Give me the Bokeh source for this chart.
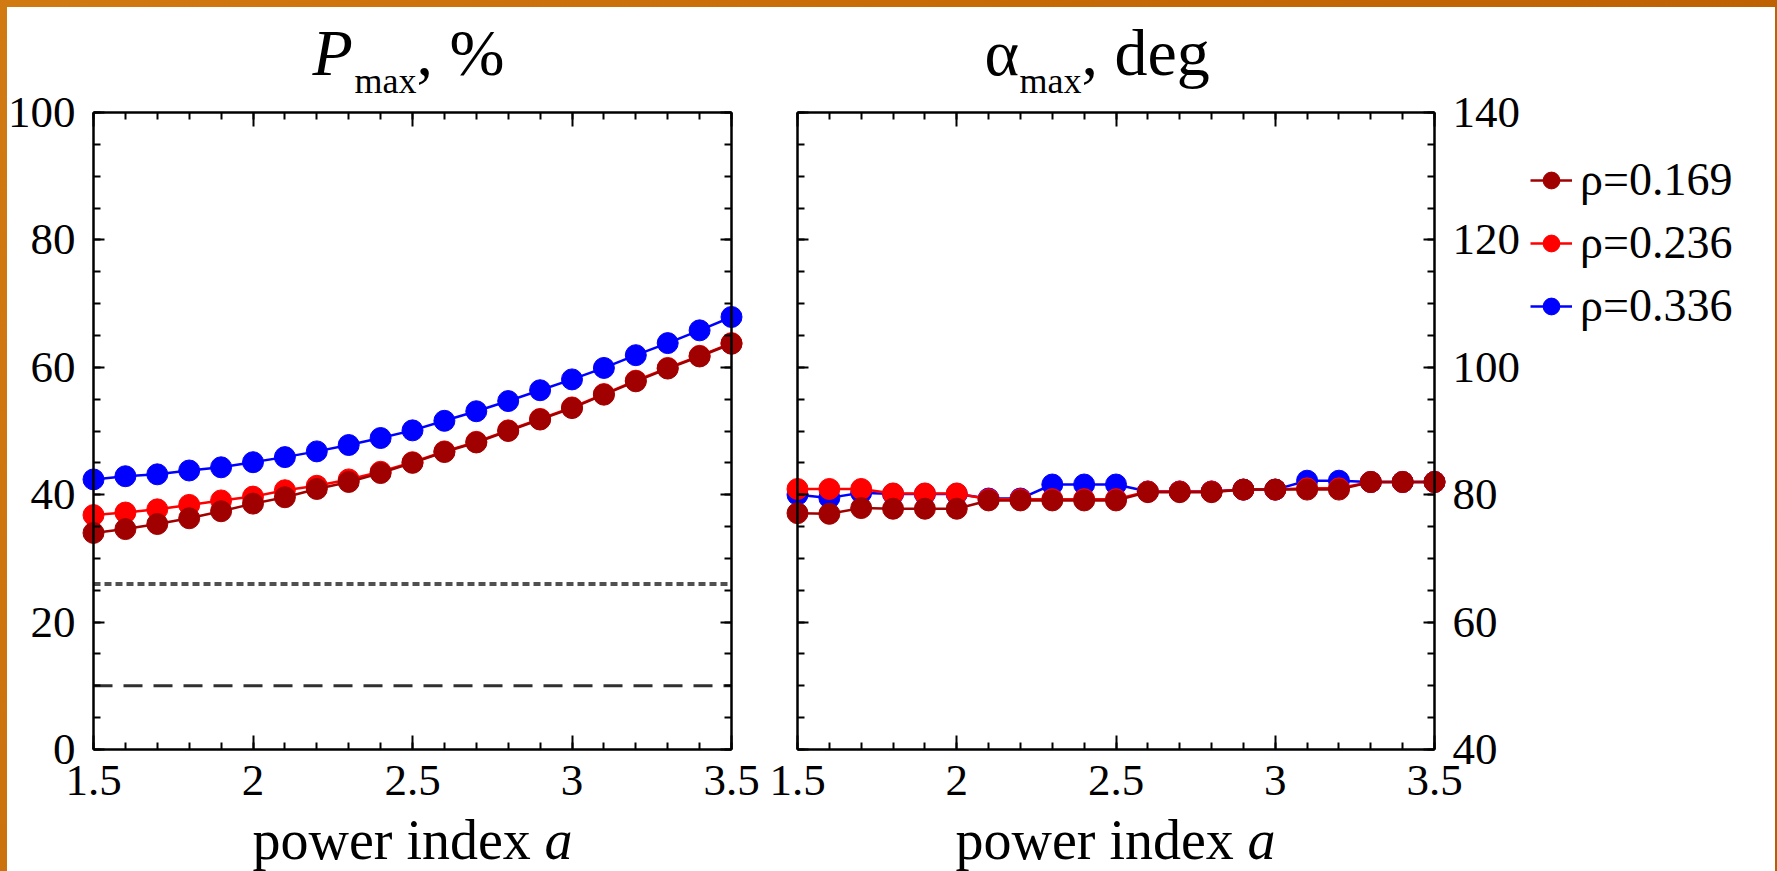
from bokeh.plotting import figure
from bokeh.models import (Range1d, LinearAxis, SingleIntervalTicker, NumeralTickFormatter,
                          Label, Legend, LegendItem, Spacer, CustomLabelingPolicy)
from bokeh.layouts import row, column
from bokeh.embed import file_html
from bokeh.resources import INLINE

# ---------------- data ----------------
power_index = [1.5, 1.6, 1.7, 1.8, 1.9, 2.0, 2.1, 2.2, 2.3, 2.4, 2.5,
               2.6, 2.7, 2.8, 2.9, 3.0, 3.1, 3.2, 3.3, 3.4, 3.5]

pmax_rho0169 = [34.0, 34.6, 35.4, 36.3, 37.4, 38.6, 39.6, 40.9, 42.0, 43.4, 45.0,
                46.7, 48.2, 50.0, 51.8, 53.6, 55.7, 57.8, 59.8, 61.7, 63.7]
pmax_rho0236 = [36.8, 37.2, 37.7, 38.4, 39.1, 39.7, 40.7, 41.4, 42.4, 43.6, 45.1,
                46.8, 48.3, 50.1, 51.9, 53.7, 55.8, 57.9, 59.9, 61.8, 63.8]
pmax_rho0336 = [42.4, 42.9, 43.2, 43.8, 44.3, 45.1, 45.9, 46.8, 47.8, 48.9, 50.1,
                51.6, 53.1, 54.7, 56.4, 58.1, 59.9, 61.9, 63.8, 65.8, 67.9]

alpha_rho0169 = [77.1, 77.0, 77.9, 77.8, 77.8, 77.8, 79.1, 79.1, 79.1, 79.1, 79.1,
                 80.4, 80.4, 80.4, 80.8, 80.8, 80.8, 80.8, 82.0, 82.0, 82.0]
alpha_rho0236 = [80.9, 80.9, 80.9, 80.2, 80.2, 80.2, 79.3, 79.3, 79.3, 79.3, 79.3,
                 80.5, 80.5, 80.5, 80.8, 80.8, 81.0, 81.0, 82.0, 82.0, 82.0]
alpha_rho0336 = [80.0, 79.5, 80.3, 80.1, 80.1, 80.1, 79.4, 79.4, 81.6, 81.6, 81.6,
                 80.5, 80.5, 80.5, 80.8, 80.8, 82.2, 82.2, 82.0, 82.0, 82.0]

series_labels = ["ρ=0.169", "ρ=0.236", "ρ=0.336"]
series_colors = ["#a00000", "#ff0000", "#0000ff"]
ref_levels = [26, 10]          # dotted and dashed reference lines in the P_max panel
ref_dashes = ["7 4", "19 11"]
ref_colors = ["#505050", "#303030"]
ref_widths = [4, 3]
x_span = (1.5, 3.5)
pmax_span = (0, 100)
alpha_span = (40, 140)

FONT = "Liberation Serif"
ORANGE = "linear-gradient(120deg, #d27a12 0%, #c66a06 45%, #b95c02 100%)"

# ---------------- layout (window pixels) ----------------
CANVAS_TOP, CANVAS_BOTTOM = 7, 871
BOX_TOP, BOX_BOTTOM = 112, 749
P1_LEFT, P1_RIGHT = 7, 764
P2_LEFT, P2_RIGHT = 764, 1775
BOX1 = (93, 731)
BOX2 = (797, 1434)
H = CANVAS_BOTTOM - CANVAS_TOP


def ranges(canvas_lr, box_lr, yspan):
    xs = (box_lr[1] - box_lr[0]) / (x_span[1] - x_span[0])
    ys = (BOX_BOTTOM - BOX_TOP) / (yspan[1] - yspan[0])
    x0 = x_span[0] - (box_lr[0] - canvas_lr[0]) / xs
    x1 = x_span[1] + (canvas_lr[1] - box_lr[1]) / xs
    y0 = yspan[0] - (CANVAS_BOTTOM - BOX_BOTTOM) / ys
    y1 = yspan[1] + (BOX_TOP - CANVAS_TOP) / ys
    return Range1d(x0, x1), Range1d(y0, y1)


def style_axis(ax, labels):
    ax.major_tick_out = 0
    ax.minor_tick_out = 0
    ax.axis_line_width = 2.5
    ax.axis_line_color = "black"
    ax.major_tick_line_width = 2
    ax.minor_tick_line_width = 2
    ax.major_tick_line_color = "black"
    ax.minor_tick_line_color = "black"
    ax.major_label_text_font = FONT
    ax.major_label_text_color = "black"
    ax.major_label_text_font_size = "45px"
    if not labels:
        ax.major_label_policy = CustomLabelingPolicy(code="return new Set()")


def x_axis(labels, at):
    ax = LinearAxis(ticker=SingleIntervalTicker(interval=0.5, num_minor_ticks=5),
                    formatter=NumeralTickFormatter(format="0.[0]"),
                    fixed_location=at, bounds=x_span)
    ax.major_tick_in = 14
    ax.minor_tick_in = 7
    ax.major_label_standoff = 16
    style_axis(ax, labels)
    return ax


def y_axis(labels, at, yspan):
    ax = LinearAxis(ticker=SingleIntervalTicker(interval=20, num_minor_ticks=4),
                    fixed_location=at, bounds=yspan)
    ax.major_tick_in = 11
    ax.minor_tick_in = 7
    ax.major_label_standoff = 18
    style_axis(ax, labels)
    return ax


def make_fig(canvas_lr, box_lr, yspan, label_side):
    xr, yr = ranges(canvas_lr, box_lr, yspan)
    p = figure(width=canvas_lr[1] - canvas_lr[0], height=H, x_range=xr, y_range=yr,
               output_backend="svg", toolbar_location=None,
               x_axis_location=None, y_axis_location=None,
               min_border_left=0, min_border_right=0, min_border_top=0, min_border_bottom=0)
    p.grid.visible = False
    p.background_fill_color = "white"
    p.border_fill_color = "white"
    p.outline_line_color = None
    p.add_layout(x_axis(True, yspan[0]), "below")
    p.add_layout(x_axis(False, yspan[1]), "above")
    if label_side == "left":
        p.add_layout(y_axis(True, x_span[0], yspan), "left")
        p.add_layout(y_axis(False, x_span[1], yspan), "right")
    else:
        p.add_layout(y_axis(True, x_span[1], yspan), "right")
        p.add_layout(y_axis(False, x_span[0], yspan), "left")
    return p


def add_text(p, canvas_left, win_x, win_baseline, text, size_px, style="normal"):
    # Label anchored at the middle of its em box; screen units from canvas bottom-left
    p.add_layout(Label(x=win_x - canvas_left,
                       y=(CANVAS_BOTTOM - win_baseline) + 0.3375 * size_px,
                       x_units="screen", y_units="screen", text=text,
                       text_font=FONT, text_font_size=f"{size_px}px", text_font_style=style,
                       text_color="black", text_align="left", text_baseline="middle"))


p1 = make_fig((P1_LEFT, P1_RIGHT), BOX1, pmax_span, "left")
p2 = make_fig((P2_LEFT, P2_RIGHT), BOX2, alpha_span, "right")

for lvl, dash, col, w in zip(ref_levels, ref_dashes, ref_colors, ref_widths):
    p1.segment(x0=x_span[0], y0=lvl, x1=x_span[1], y1=lvl,
               line_color=col, line_width=w, line_dash=dash)

pmax_series = [pmax_rho0169, pmax_rho0236, pmax_rho0336]
alpha_series = [alpha_rho0169, alpha_rho0236, alpha_rho0336]

items = {}
for i in [2, 1, 0]:
    c = series_colors[i]
    p1.line(power_index, pmax_series[i], line_color=c, line_width=2.5)
    p1.scatter(power_index, pmax_series[i], size=21, fill_color=c, line_color=c)
    rl = p2.line(power_index, alpha_series[i], line_color=c, line_width=2.5)
    rs = p2.scatter(power_index, alpha_series[i], size=21, fill_color=c, line_color=c)
    items[i] = LegendItem(label=series_labels[i], renderers=[rl, rs])

legend = Legend(items=[items[0], items[1], items[2]], location=(1530 - P2_LEFT, 539),
                label_text_font=FONT, label_text_font_size="46px", label_text_color="black",
                glyph_width=42, glyph_height=44, label_height=46, spacing=10,
                label_standoff=8, padding=0, margin=0,
                border_line_color=None, background_fill_alpha=0)
p2.add_layout(legend)

# panel titles
add_text(p1, P1_LEFT, 312, 74, "P", 66, "italic")
add_text(p1, P1_LEFT, 354, 93, "max", 36)
add_text(p1, P1_LEFT, 416, 74, ", %", 66)
add_text(p2, P2_LEFT, 984, 74, "α", 66)
add_text(p2, P2_LEFT, 1019, 93, "max", 36)
add_text(p2, P2_LEFT, 1081, 74, ", deg", 66)

# x-axis titles
add_text(p1, P1_LEFT, 252, 858, "power index", 56)
add_text(p1, P1_LEFT, 544, 858, "a", 56, "italic")
add_text(p2, P2_LEFT, 955, 858, "power index", 56)
add_text(p2, P2_LEFT, 1247, 858, "a", 56, "italic")

plots = row(p1, p2, styles={"background": "white"})
layout = column(
    Spacer(width=1777, height=CANVAS_TOP),
    row(Spacer(width=P1_LEFT, height=H), plots, Spacer(width=1777 - P2_RIGHT, height=H)),
    styles={"background": ORANGE},
)

open("out.html", "w").write(file_html(layout, INLINE))
